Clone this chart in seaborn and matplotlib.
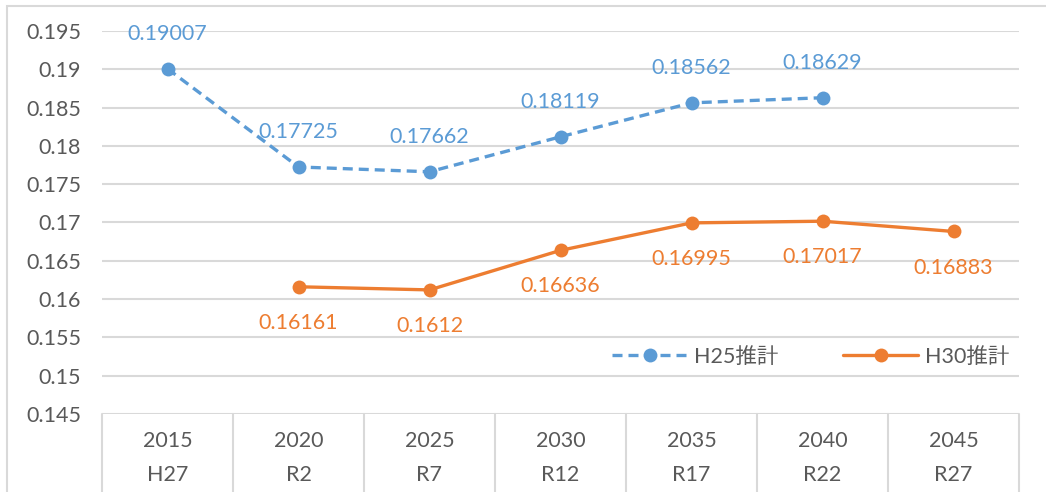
import numpy as np
import pandas as pd
import matplotlib
matplotlib.use("Agg")
import matplotlib.pyplot as plt
import matplotlib.transforms as mtransforms
from matplotlib.patches import Rectangle
import seaborn as sns

years = ["2015", "2020", "2025", "2030", "2035", "2040", "2045"]
eras = ["H27", "R2", "R7", "R12", "R17", "R22", "R27"]
h25 = [0.19007, 0.17725, 0.17662, 0.18119, 0.18562, 0.18629, np.nan]
h30 = [np.nan, 0.16161, 0.1612, 0.16636, 0.16995, 0.17017, 0.16883]
series_names = ["H25推計", "H30推計"]
colors = ["#5B9BD5", "#ED7D31"]
yticks = [0.145, 0.15, 0.155, 0.16, 0.165, 0.17, 0.175, 0.18, 0.185, 0.19, 0.195]

sns.set_theme(style="white")
plt.rcParams['font.family'] = ['Lato', 'Noto Sans CJK JP', 'DejaVu Sans']

rows = []
for name, vals in zip(series_names, [h25, h30]):
    for i, v in enumerate(vals):
        if not np.isnan(v):
            rows.append({"x": i, "value": v, "series": name})
df = pd.DataFrame(rows)

fig = plt.figure(figsize=(10.46, 4.92), dpi=100)
ax = fig.add_axes([102/1046, 1-414/492, 917/1046, 383/492])

sns.lineplot(data=df, x="x", y="value", hue="series", style="series",
             hue_order=series_names, style_order=series_names,
             palette=colors, dashes={"H25推計": (3, 1.8), "H30推計": ""},
             markers={"H25推計": "o", "H30推計": "o"},
             markersize=10, markeredgewidth=0, linewidth=2.4, ax=ax)

ax.set_xlim(-0.5, 6.5)
ax.set_ylim(0.145, 0.195)
ax.set_yticks(yticks)
ax.set_yticklabels([f"{t:g}" for t in yticks])
ax.yaxis.grid(True, color="#D9D9D9", linewidth=1.5)
ax.xaxis.grid(False)
for s in ax.spines.values():
    s.set_visible(False)
ax.tick_params(axis="y", length=0, pad=15, labelsize=15.5, labelcolor="#595959")
ax.set_xticks(range(len(years)))
ax.set_xticklabels([f"{y}\n{e}" for y, e in zip(years, eras)], linespacing=1.9)
ax.tick_params(axis="x", length=0, pad=12, labelsize=15.5, labelcolor="#595959")
ax.set_xlabel("")
ax.set_ylabel("")

# category separators
trans = mtransforms.blended_transform_factory(ax.transData, ax.transAxes)
for i in range(len(years) + 1):
    ax.plot([i - 0.5, i - 0.5], [0, -0.3], transform=trans, color="#D9D9D9",
            linewidth=1.5, clip_on=False)

# data labels
for i, v in enumerate(h25):
    if not np.isnan(v):
        ax.annotate(f"{v}", (i, v), xytext=(0, 25), textcoords="offset points",
                    ha="center", va="center", fontsize=15.5, color=colors[0])
for i, v in enumerate(h30):
    if not np.isnan(v):
        ax.annotate(f"{v}", (i, v), xytext=(0, -26), textcoords="offset points",
                    ha="center", va="center", fontsize=15.5, color=colors[1])

leg = ax.legend(loc="center", bbox_to_anchor=(0.773, 0.15), ncol=2, frameon=False,
                fontsize=15.5, handlelength=3.5, columnspacing=3.0, handletextpad=0.3)
for t in leg.get_texts():
    t.set_color("#595959")

fig.patches.append(Rectangle((7/1046, -0.1), 1.2, 1 - 6/492 + 0.1, transform=fig.transFigure,
                             fill=False, edgecolor="#D9D9D9", linewidth=1.5))

fig.savefig("out.png", dpi=100)
